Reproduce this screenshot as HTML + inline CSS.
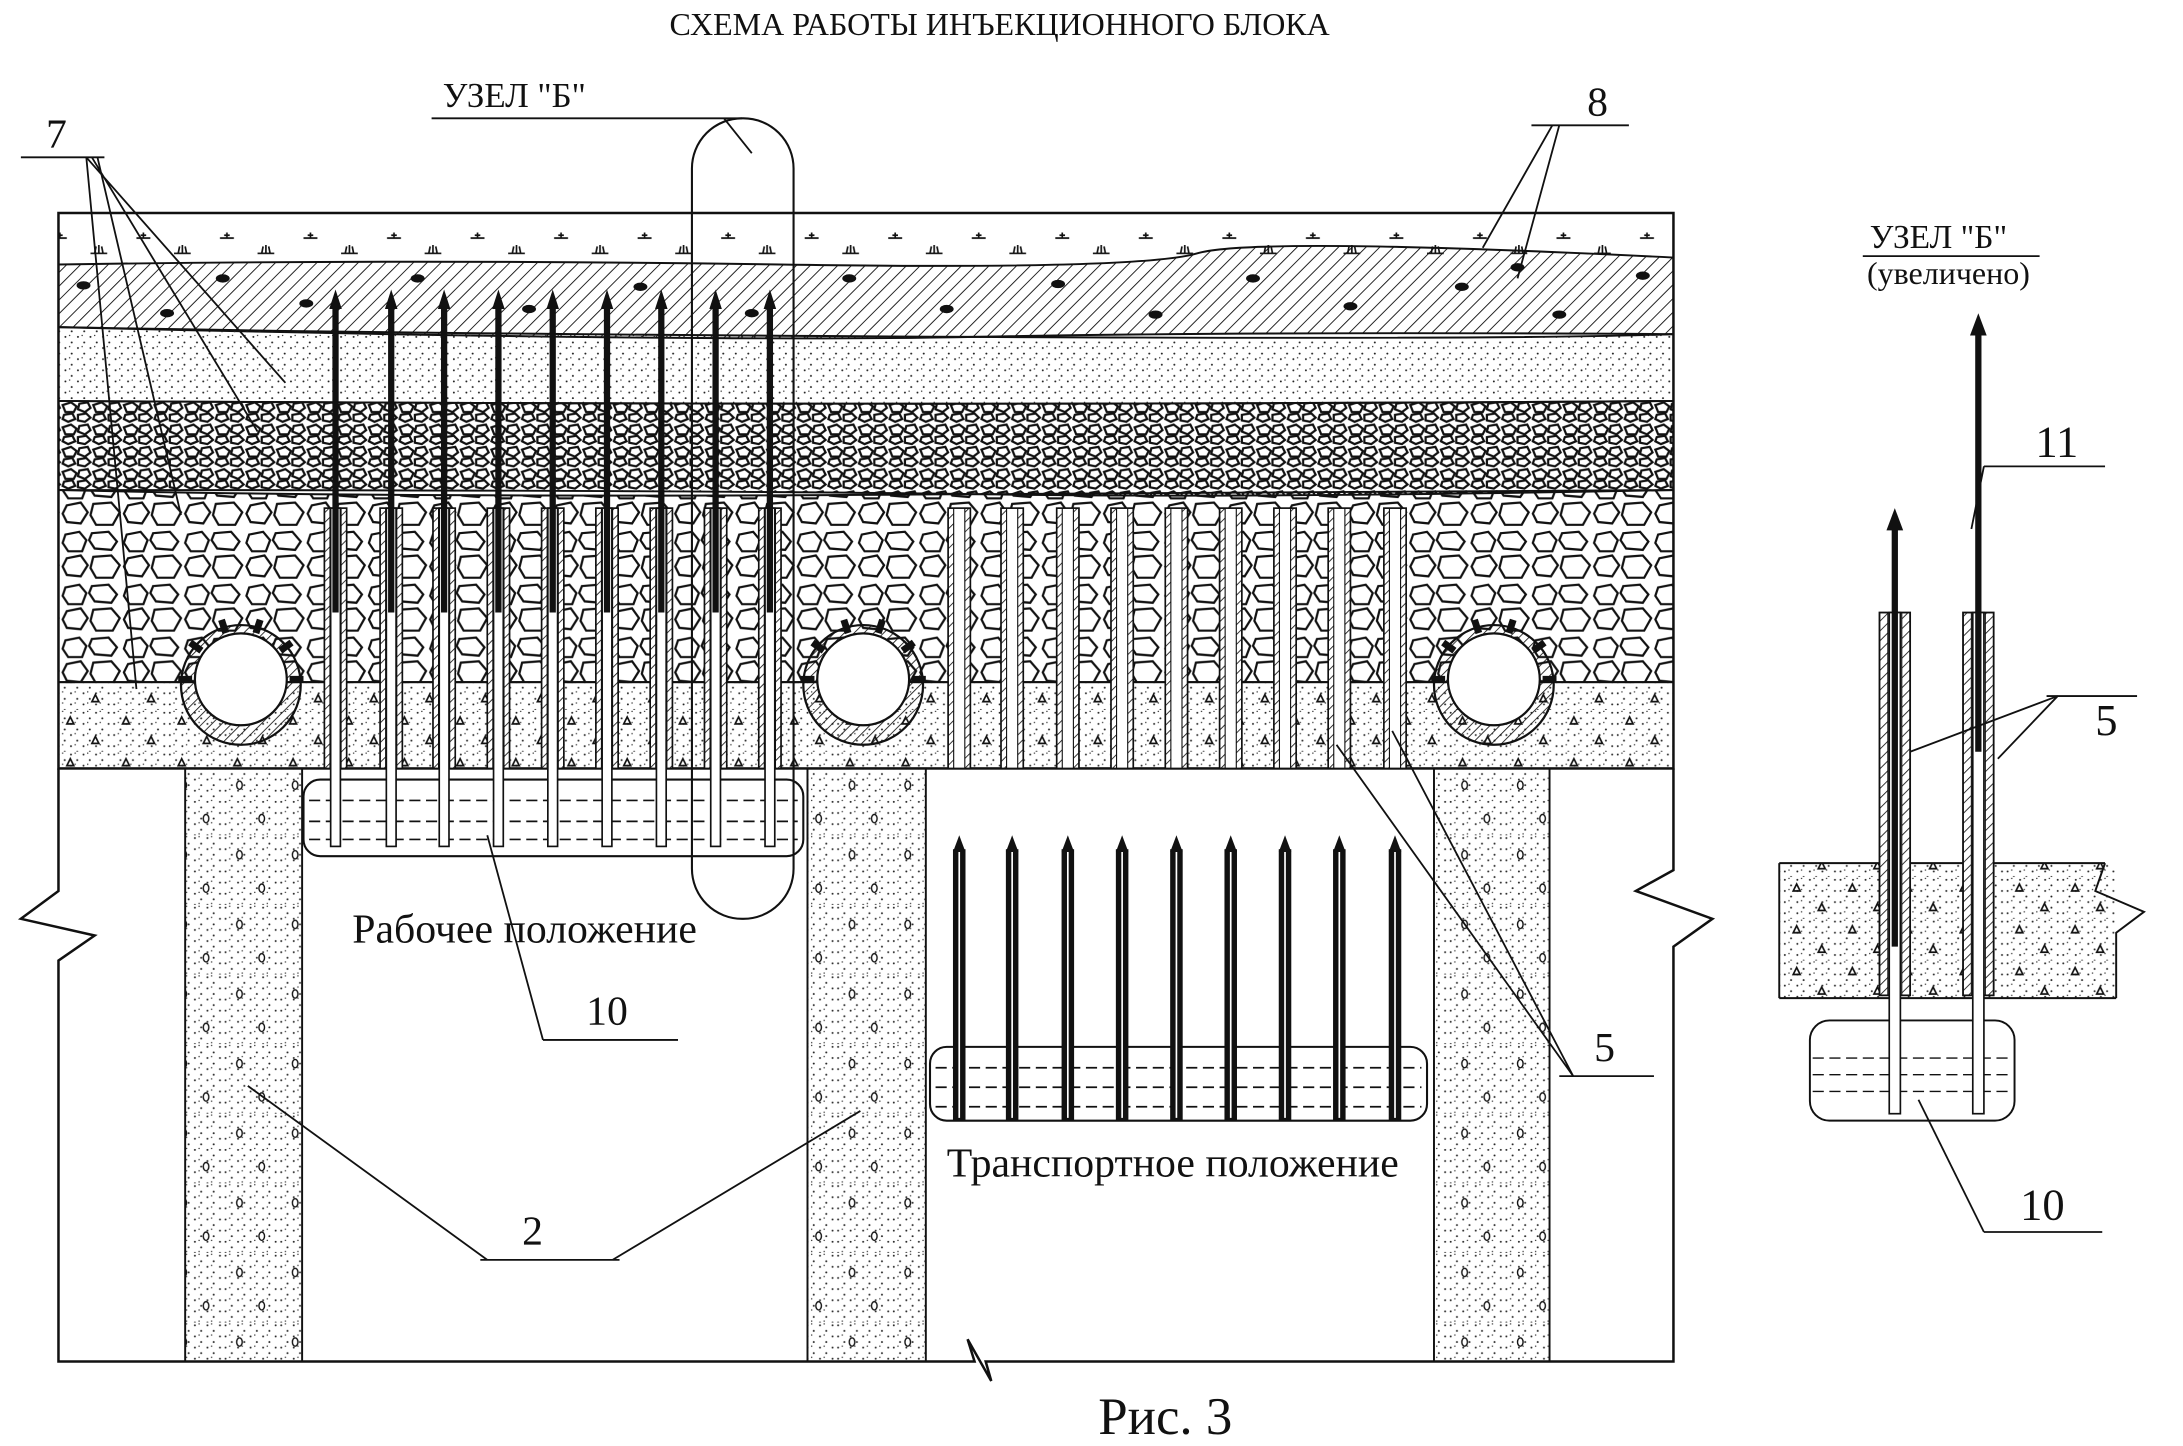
<!DOCTYPE html>
<html><head><meta charset="utf-8"><style>
html,body{margin:0;padding:0;background:#fff}
svg{display:block}
text{font-family:"Liberation Serif",serif;fill:#111}
</style></head><body>
<svg id="s" width="2183" height="1446" viewBox="0 0 1568 1038.7" preserveAspectRatio="none" xmlns="http://www.w3.org/2000/svg">
<defs>
<pattern id="hatch" width="7" height="7" patternUnits="userSpaceOnUse" patternTransform="rotate(45)">
<line x1="0" y1="0" x2="0" y2="7" stroke="#111" stroke-width="1.3"/></pattern>
<pattern id="dots" width="9" height="8" patternUnits="userSpaceOnUse">
<circle cx="2" cy="2" r="0.7" fill="#222"/><circle cx="6.5" cy="6" r="0.7" fill="#222"/><circle cx="5" cy="1" r="0.5" fill="#222"/></pattern>
<pattern id="gravel" width="22" height="16" patternUnits="userSpaceOnUse">
<g fill="none" stroke="#111" stroke-width="1.6">
<path d="M1 3 L7 1 L11 4 L9 8 L3 8 Z"/><path d="M13 2 L19 1 L21 5 L17 8 L12 6 Z"/>
<path d="M2 10 L8 9 L10 13 L5 15 L1 13 Z"/><path d="M12 10 L18 9 L21 12 L17 15 L12 14 Z"/></g></pattern>
<pattern id="cobble" width="44" height="38" patternUnits="userSpaceOnUse">
<g fill="none" stroke="#111" stroke-width="1.6">
<path d="M3 4 L13 2 L18 8 L15 16 L5 16 L1 10 Z"/><path d="M22 3 L34 2 L40 9 L36 15 L24 14 L20 8 Z"/>
<path d="M4 21 L14 19 L19 26 L14 34 L4 33 L1 27 Z"/><path d="M23 20 L36 19 L42 26 L37 35 L25 35 L21 28 Z"/></g></pattern>
<pattern id="conc" width="40" height="30" patternUnits="userSpaceOnUse">
<rect width="40" height="30" fill="url(#dots)"/>
<path d="M8 10 L13 10 L10.5 5 Z M26 24 L31 24 L28.5 19 Z" fill="none" stroke="#111" stroke-width="1.2"/></pattern>
<pattern id="col" width="40" height="50" patternUnits="userSpaceOnUse">
<rect width="40" height="50" fill="url(#dots)"/>
<ellipse cx="12" cy="14" rx="2" ry="3" fill="none" stroke="#111"/><ellipse cx="28" cy="38" rx="2" ry="3" fill="none" stroke="#111"/></pattern>
<pattern id="grass" width="60" height="32" patternUnits="userSpaceOnUse">
<g stroke="#111" stroke-width="1.2" fill="none"><path d="M5 22 h12 M8 22 l1-5 M11 22 v-6 M14 22 l-1-5"/>
<path d="M38 11 h10 M43 11 v-4 M41 9 h4"/></g></pattern>
<pattern id="pipeh" width="5" height="5" patternUnits="userSpaceOnUse" patternTransform="rotate(45)">
<line x1="0" y1="0" x2="0" y2="5" stroke="#111" stroke-width="1.2"/></pattern>
</defs>
<text x="718" y="25" font-size="23" text-anchor="middle">СХЕМА РАБОТЫ ИНЪЕКЦИОННОГО БЛОКА</text>
<!-- layers -->
<rect x="42" y="153" width="1160" height="40" fill="url(#grass)"/>
<path d="M42 190 Q300 186 560 190 T860 182 T1202 185 L1202 240 Q900 238 700 242 T42 235 Z" fill="url(#hatch)" stroke="#111" stroke-width="1.4"/>
<g fill="#111">
<ellipse cx="60" cy="205" rx="5" ry="3"/><ellipse cx="120" cy="225" rx="5" ry="3"/><ellipse cx="160" cy="200" rx="5" ry="3"/>
<ellipse cx="220" cy="218" rx="5" ry="3"/><ellipse cx="300" cy="200" rx="5" ry="3"/><ellipse cx="380" cy="222" rx="5" ry="3"/>
<ellipse cx="460" cy="206" rx="5" ry="3"/><ellipse cx="540" cy="225" rx="5" ry="3"/><ellipse cx="610" cy="200" rx="5" ry="3"/>
<ellipse cx="680" cy="222" rx="5" ry="3"/><ellipse cx="760" cy="204" rx="5" ry="3"/><ellipse cx="830" cy="226" rx="5" ry="3"/>
<ellipse cx="900" cy="200" rx="5" ry="3"/><ellipse cx="970" cy="220" rx="5" ry="3"/><ellipse cx="1050" cy="206" rx="5" ry="3"/>
<ellipse cx="1120" cy="226" rx="5" ry="3"/><ellipse cx="1180" cy="198" rx="5" ry="3"/><ellipse cx="1090" cy="192" rx="5" ry="3"/></g>
<path d="M42 235 Q300 240 700 242 T1202 240 L1202 288 Q700 292 42 288 Z" fill="url(#dots)" stroke="#111" stroke-width="1.4"/>
<path d="M42 288 Q700 292 1202 288 L1202 352 Q900 358 700 355 T42 352 Z" fill="url(#gravel)" stroke="#111" stroke-width="1.4"/>
<path d="M42 352 Q300 358 700 355 T1202 352 L1202 490 L42 490 Z" fill="url(#cobble)" stroke="#111" stroke-width="1.4"/>
<rect x="42" y="490" width="1160" height="62" fill="url(#conc)" stroke="#111" stroke-width="1.4"/>
<rect x="42" y="153" width="1160" height="399" fill="none" stroke="#111" stroke-width="1.8"/>
<!-- lower part -->
<rect x="133" y="552" width="84" height="426" fill="url(#col)" stroke="#111" stroke-width="1.4"/>
<rect x="580" y="552" width="85" height="426" fill="url(#col)" stroke="#111" stroke-width="1.4"/>
<rect x="1030" y="552" width="83" height="426" fill="url(#col)" stroke="#111" stroke-width="1.4"/>
<path d="M42 552 V640 L15 660 L68 672 L42 690 V978 H700 L695 962 L712 992 L708 978 H1202 V680 L1230 660 L1175 640 L1202 625 V552" fill="none" stroke="#111" stroke-width="1.8"/>
<g id="dyn"></g>
<!-- node oval -->
<rect x="497" y="85" width="73" height="575" rx="36" fill="none" stroke="#111" stroke-width="1.5"/>
<line x1="310" y1="85" x2="533" y2="85" stroke="#111" stroke-width="1.3"/><line x1="520" y1="85" x2="540" y2="110" stroke="#111" stroke-width="1.3"/>
<text x="318" y="77" font-size="25">УЗЕЛ  "Б"</text>
<!-- labels -->
<text x="33" y="106" font-size="30">7</text>
<line x1="15" y1="113" x2="75" y2="113" stroke="#111" stroke-width="1.3"/>
<g stroke="#111" fill="none" stroke-width="1.3"><path d="M62 113 L205 275 M66 113 L185 310 M70 113 L130 370 M62 113 L98 495"/></g>
<text x="1140" y="83" font-size="30">8</text>
<line x1="1100" y1="90" x2="1170" y2="90" stroke="#111" stroke-width="1.3"/>
<path d="M1115 90 L1065 178 M1120 90 L1090 200" stroke="#111" fill="none" stroke-width="1.3"/>
<text x="253" y="677" font-size="30">Рабочее положение</text>
<text x="421" y="736" font-size="30">10</text>
<line x1="390" y1="747" x2="487" y2="747" stroke="#111" stroke-width="1.3"/><line x1="390" y1="747" x2="350" y2="600" stroke="#111" stroke-width="1.3"/>
<text x="680" y="845" font-size="30">Транспортное положение</text>
<text x="1145" y="762" font-size="30">5</text>
<line x1="1120" y1="773" x2="1188" y2="773" stroke="#111" stroke-width="1.3"/>
<path d="M1130 773 L960 535 M1130 773 L1000 525" stroke="#111" fill="none" stroke-width="1.3"/>
<text x="375" y="894" font-size="30">2</text>
<line x1="345" y1="905" x2="445" y2="905" stroke="#111" stroke-width="1.3"/>
<path d="M350 905 L178 780 M440 905 L618 798" stroke="#111" fill="none" stroke-width="1.3"/>
<text x="837" y="1030" font-size="38" text-anchor="middle">Рис. 3</text>
<!-- detail -->
<text x="1343" y="178" font-size="24">УЗЕЛ  "Б"</text>
<line x1="1338" y1="184" x2="1465" y2="184" stroke="#111" stroke-width="1.3"/>
<text x="1341" y="204" font-size="23">(увеличено)</text>
<rect x="1278" y="620" width="242" height="97" fill="url(#conc)"/>
<path d="M1278 620 H1512 M1278 717 H1520 M1278 620 V717 M1512 620 L1505 640 L1540 655 L1520 670 V717" stroke="#111" fill="none" stroke-width="1.4"/>
<rect x="1300" y="733" width="147" height="72" rx="14" fill="#fff" stroke="#111" stroke-width="1.4"/>
<g stroke="#111" stroke-dasharray="8 4"><line x1="1302" y1="760" x2="1445" y2="760"/><line x1="1302" y1="772" x2="1445" y2="772"/><line x1="1302" y1="784" x2="1445" y2="784"/></g>
<g id="det"></g>
<text x="1462" y="328" font-size="32">11</text>
<line x1="1425" y1="335" x2="1512" y2="335" stroke="#111" stroke-width="1.3"/><line x1="1425" y1="335" x2="1416" y2="380" stroke="#111" stroke-width="1.3"/>
<text x="1505" y="528" font-size="32">5</text>
<line x1="1470" y1="500" x2="1535" y2="500" stroke="#111" stroke-width="1.3"/>
<path d="M1478 500 L1372 540 M1478 500 L1435 545" stroke="#111" fill="none" stroke-width="1.3"/>
<text x="1451" y="876" font-size="32">10</text>
<line x1="1425" y1="885" x2="1510" y2="885" stroke="#111" stroke-width="1.3"/><line x1="1425" y1="885" x2="1378" y2="790" stroke="#111" stroke-width="1.3"/>
</svg>
<script>
var NS="http://www.w3.org/2000/svg",d=document.getElementById('dyn');
function el(p,t,a){var e=document.createElementNS(NS,t);for(var k in a)e.setAttribute(k,a[k]);p.appendChild(e);return e;}
[173,620,1073].forEach(function(x){
 el(d,'circle',{cx:x,cy:492,r:43,fill:'url(#pipeh)',stroke:'#111','stroke-width':1.6});
 el(d,'circle',{cx:x,cy:488,r:33,fill:'#fff',stroke:'#111','stroke-width':1.6});
 for(var i=0;i<6;i++){var a=Math.PI*(1+i/5);el(d,'line',{x1:x+35*Math.cos(a),y1:488+35*Math.sin(a),x2:x+45*Math.cos(a),y2:488+45*Math.sin(a),stroke:'#111','stroke-width':5});}
});
function casing(x){
 el(d,'rect',{x:x-8,y:365,width:16,height:187,fill:'#fff',stroke:'#111','stroke-width':1.2});
 el(d,'rect',{x:x-8,y:365,width:4,height:187,fill:'url(#pipeh)',stroke:'#111','stroke-width':.8});
 el(d,'rect',{x:x+4,y:365,width:4,height:187,fill:'url(#pipeh)',stroke:'#111','stroke-width':.8});
}
el(d,'rect',{x:218,y:560,width:359,height:55,rx:12,fill:'#fff',stroke:'#111','stroke-width':1.5});
[575,590,603].forEach(function(y){el(d,'line',{x1:222,y1:y,x2:573,y2:y,stroke:'#111','stroke-dasharray':'8 4','stroke-width':1.2});});
[241,281,319,358,397,436,475,514,553].forEach(function(x){
 casing(x);
 el(d,'rect',{x:x-3.5,y:365,width:7,height:243,fill:'#fff',stroke:'#111','stroke-width':1.2});
 el(d,'line',{x1:x,y1:440,x2:x,y2:220,stroke:'#111','stroke-width':4.5});
 el(d,'path',{d:'M'+(x-4.5)+' 222 L'+x+' 208 L'+(x+4.5)+' 222 Z',fill:'#111'});
});
el(d,'rect',{x:668,y:752,width:357,height:53,rx:12,fill:'#fff',stroke:'#111','stroke-width':1.5});
[767,781,795].forEach(function(y){el(d,'line',{x1:672,y1:y,x2:1021,y2:y,stroke:'#111','stroke-dasharray':'8 4','stroke-width':1.2});});
[689,727,767,806,845,884,923,962,1002].forEach(function(x){
 casing(x);
 el(d,'rect',{x:x-4.5,y:610,width:9,height:195,fill:'#111'});
 el(d,'line',{x1:x,y1:612,x2:x,y2:803,stroke:'#fff','stroke-width':1.2});
 el(d,'path',{d:'M'+(x-4.5)+' 612 L'+x+' 600 L'+(x+4.5)+' 612 Z',fill:'#111'});
});
var t=document.getElementById('det');
[[1361,365],[1421,225]].forEach(function(p){var x=p[0];
 el(t,'rect',{x:x-11,y:440,width:22,height:275,fill:'#fff',stroke:'#111','stroke-width':1.3});
 el(t,'rect',{x:x-11,y:440,width:6,height:275,fill:'url(#pipeh)',stroke:'#111','stroke-width':.8});
 el(t,'rect',{x:x+5,y:440,width:6,height:275,fill:'url(#pipeh)',stroke:'#111','stroke-width':.8});
 el(t,'rect',{x:x-4,y:440,width:8,height:360,fill:'#fff',stroke:'#111','stroke-width':1.2});
 el(t,'line',{x1:x,y1:p[1]+12,x2:x,y2:x<1400?680:540,stroke:'#111','stroke-width':4.5});
 el(t,'path',{d:'M'+(x-6)+' '+(p[1]+16)+' L'+x+' '+p[1]+' L'+(x+6)+' '+(p[1]+16)+' Z',fill:'#111'});
});
</script>
</body></html>
